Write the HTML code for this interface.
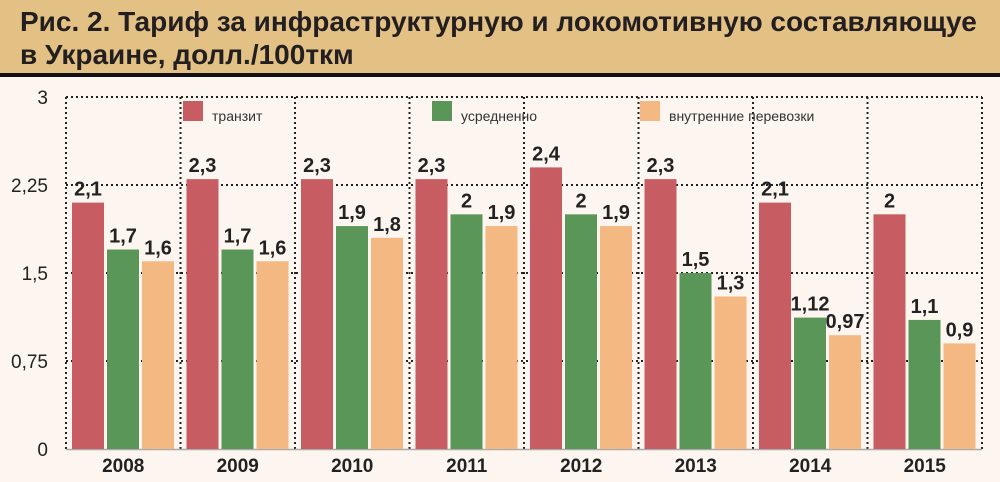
<!DOCTYPE html>
<html><head><meta charset="utf-8"><style>
body{margin:0;width:1000px;height:482px;background:#fdf5ef;overflow:hidden;font-family:"Liberation Sans",sans-serif}
#title{position:absolute;left:0;top:0;width:1000px;height:73px;background:#e3c185;border-bottom:4px solid #111}
#title div{position:absolute;left:20px;top:5px;font-weight:bold;font-size:28px;line-height:33px;color:#231f20}
svg{position:absolute;left:0;top:0}
</style></head><body>
<div id="title"><div>Рис. 2. Тариф за инфраструктурную и локомотивную составляющуе<br>в Украине, долл./100ткм</div></div>
<svg id="chart" width="1000" height="482"></svg>
<script>
const years=["2008","2009","2010","2011","2012","2013","2014","2015"];
const transit=[2.1,2.3,2.3,2.3,2.4,2.3,2.1,2];
const average=[1.7,1.7,1.9,2,2,1.5,1.12,1.1];
const domestic=[1.6,1.6,1.8,1.9,1.9,1.3,0.97,0.9];
const ticks=[0,0.75,1.5,2.25,3];
const tickLabels=["0","0,75","1,5","2,25","3"];
const seriesNames=["транзит","усредненно","внутренние перевозки"];
const colors=["#c75c62","#5b9659","#f4b983"];
const svg=document.getElementById('chart');const NS="http://www.w3.org/2000/svg";
const x0=66,x1=982,y0=449,y3=97;
const y=v=>y0-(v/3)*(y0-y3);
const gw=(x1-x0)/years.length;
function mk(t,a,p){const e=document.createElementNS(NS,t);for(const k in a)e.setAttribute(k,a[k]);(p||svg).appendChild(e);return e;}
ticks.forEach((t,i)=>{
 if(t>0){const l=mk('line',{x1:x0,x2:x1,y1:y(t),y2:y(t),stroke:'#222','stroke-width':2,'stroke-dasharray':'2,3'});
 }
 const tx=mk('text',{x:48,y:y(t)+7,'text-anchor':'end','font-size':19,fill:'#222'});tx.textContent=tickLabels[i];
 
});
for(let i=0;i<=years.length;i++){const gx=x0+i*gw;
 const l=mk('line',{x1:gx,x2:gx,y1:y3,y2:y0,stroke:'#222','stroke-width':2,'stroke-dasharray':'2,3'});
 }
const ax=mk('line',{x1:x0,x2:x1,y1:y0+0.5,y2:y0+0.5,stroke:'#aaa','stroke-width':1.5});

const series=[transit,average,domestic];
years.forEach((yr,i)=>{
 const gx=x0+i*gw;
 series.forEach((s,j)=>{
  const bx=gx+6+j*35,v=s[i];
  const r=mk('rect',{x:bx,y:y(v),width:32,height:y0-y(v),fill:colors[j]});
  
  const t=mk('text',{x:bx+16,y:y(v)-7,'text-anchor':'middle','font-size':20,'font-weight':'bold',fill:'#222'});
  t.textContent=String(v).replace('.',',');
  
 });
 const lt=mk('text',{x:gx+gw/2,y:472,'text-anchor':'middle','font-size':19,'font-weight':'bold',fill:'#222'});lt.textContent=yr;
 
});
const lx=[183,432,640];
seriesNames.forEach((n,j)=>{
 const g=mk('g',{});
 mk('rect',{x:lx[j],y:101,width:20,height:20,fill:colors[j]},g);
 const t=mk('text',{x:lx[j]+29,y:121,'font-size':14,fill:'#333'},g);t.textContent=n;
});
</script>
</body></html>
